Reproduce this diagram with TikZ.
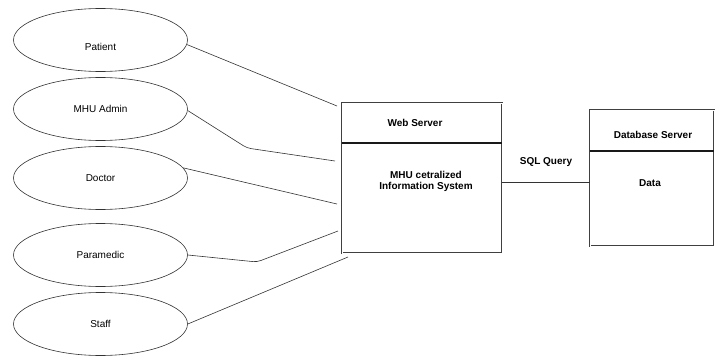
\documentclass[tikz,border=0pt]{standalone}
\usepackage{fontspec}
\setmainfont{Liberation Sans}
\usetikzlibrary{shapes.geometric}
\begin{document}
\begin{tikzpicture}[x=1pt,y=-1pt,
  actor/.style={ellipse, draw=black!80, line width=0.6pt, minimum width=174pt, minimum height=63pt, inner sep=0pt},
  lbl/.style={font=\fontsize{10}{11}\selectfont},
  blbl/.style={font=\fontsize{10}{11}\selectfont\bfseries, align=center, inner sep=0pt},
  srv/.style={rectangle, draw=black!75, double, double distance=1pt, line width=0.5pt, inner sep=0pt},
  sep/.style={line width=2pt, black!90},
  conn/.style={draw=black!80, line width=0.6pt, rounded corners=4pt}]
\useasboundingbox (0,0) rectangle (718,356);
% actors
\node[actor, label={[lbl, yshift=-7pt]center:Patient}] (patient) at (100.5,40) {};
\node[actor, label={[lbl]center:MHU Admin}] (admin) at (100.5,109) {};
\node[actor, label={[lbl]center:Doctor}] (doctor) at (100.5,178) {};
\node[actor, label={[lbl]center:Paramedic}] (para) at (100.5,255) {};
\node[actor, label={[lbl]center:Staff}] (staff) at (100.5,324) {};
% servers
\node[srv, minimum width=160pt, minimum height=150pt] (web) at (422,178) {};
\node[srv, minimum width=124pt, minimum height=136pt] (db) at (652,178) {};
\draw[sep] (web.west |- 0,143) -- (web.east |- 0,143);
\draw[sep] (db.west |- 0,151) -- (db.east |- 0,151);
\node[blbl] (webt) at (415,123) {Web Server};
\node[blbl] (info) at (426,181.5) {MHU cetralized\\Information System};
\node[blbl] (dbt) at (653,135) {Database Server};
\node[blbl] (data) at (650,183) {Data};
% SQL link
\coordinate (sqly) at (0,182);
\draw[conn] (web.east |- sqly) -- (db.west |- sqly);
\node[blbl] (sql) at (546,162) {SQL Query};
% connector end points
\coordinate (e1) at (337,106);
\coordinate (b2) at (247,148);
\coordinate (e2) at (335,161);
\coordinate (e3) at (337,204);
\coordinate (b4) at (257,262);
\coordinate (e4) at (338,231);
\coordinate (e5) at (348,257);
\draw[conn] (patient.-3) -- (e1);
\draw[conn] (admin.-1) -- (b2) -- (e2);
\draw[conn] (doctor.7) -- (e3);
\draw[conn] (para.east) -- (b4) -- (e4);
\draw[conn] (staff.east) -- (e5);
\end{tikzpicture}
\end{document}
